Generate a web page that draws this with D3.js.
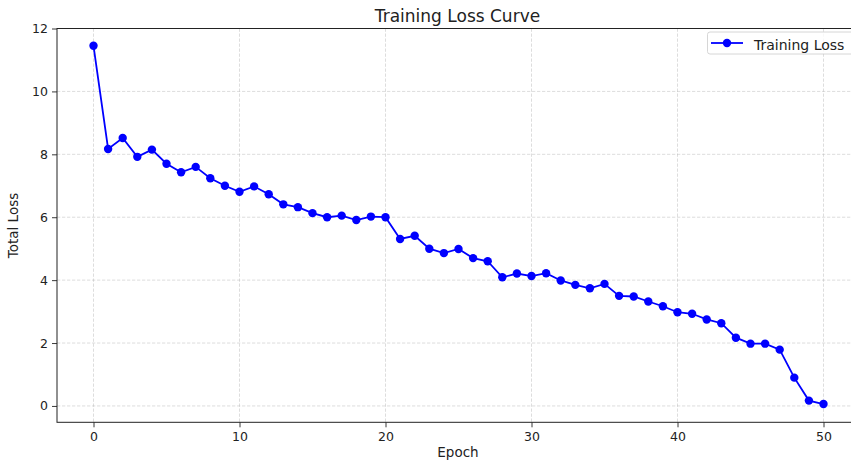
<!DOCTYPE html>
<html>
<head>
<meta charset="utf-8">
<script src="https://cdn.jsdelivr.net/npm/d3@7/dist/d3.min.js"></script>
<style>
  html, body { margin: 0; padding: 0; background: #fff; }
  svg { display: block; font-family: "DejaVu Sans", sans-serif; }
</style>
</head>
<body>
<svg id="chart" width="851" height="461"></svg>
<script>
const epochs = d3.range(0, 51);
const lossValues = [
  11.45, 8.17, 8.52, 7.92, 8.15, 7.70, 7.43, 7.60, 7.24, 7.00,
  6.81, 6.98, 6.73, 6.41, 6.32, 6.13, 6.00, 6.05, 5.91, 6.02,
  6.00, 5.31, 5.41, 5.00, 4.86, 4.99, 4.70, 4.60, 4.09, 4.21,
  4.13, 4.22, 3.99, 3.85, 3.74, 3.88, 3.50, 3.48, 3.32, 3.17,
  2.98, 2.93, 2.75, 2.63, 2.17, 1.98, 1.98, 1.79, 0.90, 0.17,
  0.06
];
const xTicks = [0, 10, 20, 30, 40, 50];
const yTicks = [0, 2, 4, 6, 8, 10, 12];
const titleText = "Training Loss Curve";
const xLabel = "Epoch";
const yLabel = "Total Loss";
const seriesName = "Training Loss";

const data = epochs.map((e, i) => ({ x: e, y: lossValues[i] }));

const svg = d3.select("#chart");
const pL = 57, pR = 860, pT = 28.5, pB = 422.3;

const x = d3.scaleLinear().domain([-2.5, 52.5]).range([pL, pR]);
const y = d3.scaleLinear().domain([-0.52, 12.0]).range([pB, pT]);

// Grid
const grid = svg.append("g");
grid.selectAll("line.vx").data(xTicks).join("line")
  .attr("x1", d => x(d)).attr("x2", d => x(d))
  .attr("y1", pT).attr("y2", pB)
  .attr("stroke", "#b0b0b0").attr("stroke-opacity", 0.55)
  .attr("stroke-width", 0.8).attr("stroke-dasharray", "3.3,1.7");
grid.selectAll("line.hy").data(yTicks).join("line")
  .attr("x1", pL).attr("x2", pR)
  .attr("y1", d => y(d)).attr("y2", d => y(d))
  .attr("stroke", "#b0b0b0").attr("stroke-opacity", 0.55)
  .attr("stroke-width", 0.8).attr("stroke-dasharray", "3.3,1.7");

// Axes
const xAxis = svg.append("g").attr("transform", `translate(0,${pB})`)
  .call(d3.axisBottom(x).tickValues(xTicks).tickSize(5).tickPadding(4.5).tickFormat(d3.format("d")));
const yAxis = svg.append("g").attr("transform", `translate(${pL},0)`)
  .call(d3.axisLeft(y).tickValues(yTicks).tickSize(5).tickPadding(4).tickFormat(d3.format("d")));
[xAxis, yAxis].forEach(a => {
  a.select(".domain").remove();
  a.selectAll("text").attr("font-size", 12.5).attr("fill", "#222").attr("font-family", "DejaVu Sans");
  a.selectAll("line").attr("stroke", "#222").attr("stroke-width", 0.9);
});

// Spines
svg.append("rect").attr("x", pL).attr("y", pT)
  .attr("width", pR - pL).attr("height", pB - pT)
  .attr("fill", "none").attr("stroke", "#222").attr("stroke-width", 1);

// Line
const line = d3.line().x(d => x(d.x)).y(d => y(d.y));
svg.append("path").datum(data)
  .attr("d", line).attr("fill", "none")
  .attr("stroke", "#0000ff").attr("stroke-width", 1.8);
svg.append("g").selectAll("circle").data(data).join("circle")
  .attr("cx", d => x(d.x)).attr("cy", d => y(d.y)).attr("r", 4.2)
  .attr("fill", "#0000ff");

// Title and labels
svg.append("text").attr("x", 457.5).attr("y", 21.5).attr("text-anchor", "middle")
  .attr("font-size", 17).attr("fill", "#222").text(titleText);
svg.append("text").attr("x", 458).attr("y", 457).attr("text-anchor", "middle")
  .attr("font-size", 13.5).attr("fill", "#222").text(xLabel);
svg.append("text").attr("transform", "translate(17.5,225.5) rotate(-90)").attr("text-anchor", "middle")
  .attr("font-size", 13.5).attr("fill", "#222").text(yLabel);

// Legend
const lg = svg.append("g");
lg.append("rect").attr("x", 707.5).attr("y", 32).attr("width", 160).attr("height", 22)
  .attr("rx", 2.5).attr("fill", "#fff").attr("fill-opacity", 0.8)
  .attr("stroke", "#ccc").attr("stroke-width", 0.8);
lg.append("line").attr("x1", 711).attr("x2", 743).attr("y1", 43).attr("y2", 43)
  .attr("stroke", "#0000ff").attr("stroke-width", 1.8);
lg.append("circle").attr("cx", 727).attr("cy", 43).attr("r", 4.2).attr("fill", "#0000ff");
lg.append("text").attr("x", 754).attr("y", 49.5).attr("font-size", 14).attr("fill", "#222").text(seriesName);
</script>
</body>
</html>
